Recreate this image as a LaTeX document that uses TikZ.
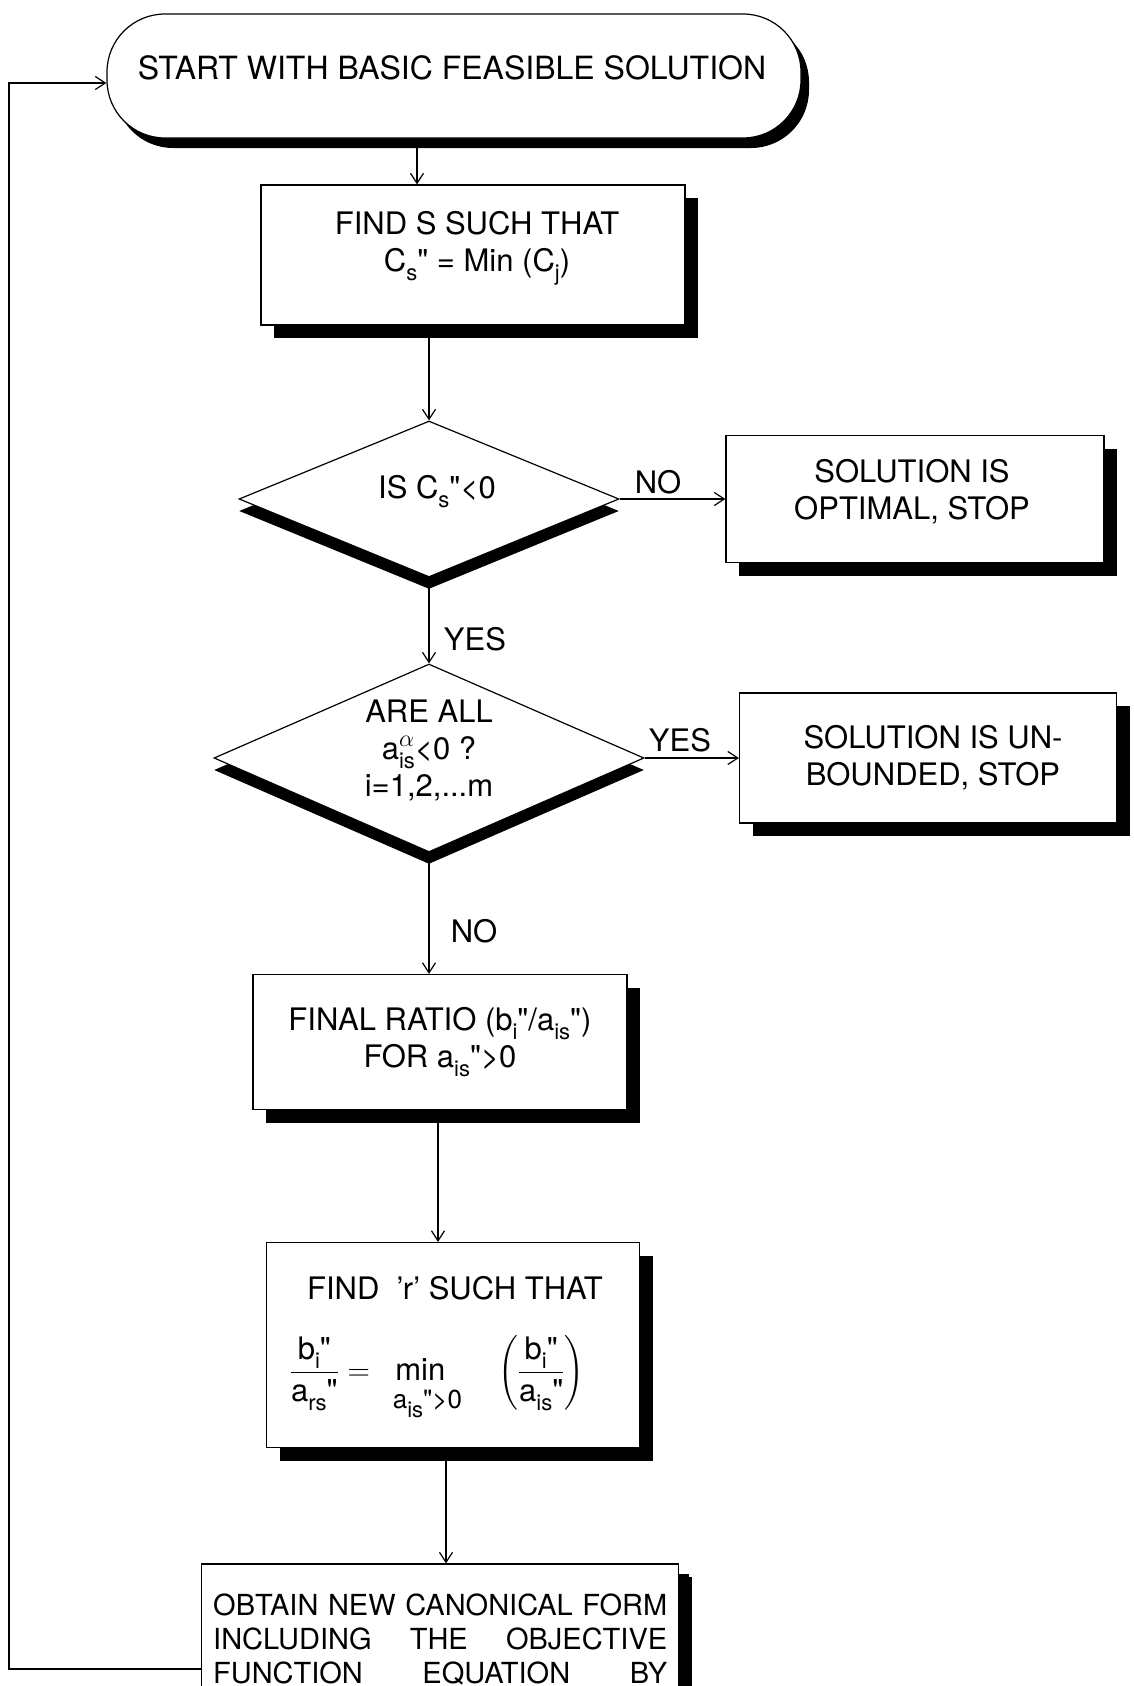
\documentclass[tikz,border=0pt]{standalone}
\usepackage{fix-cm}
\usepackage{amsmath}
\usepackage{fontspec}
\setmainfont{TeX Gyre Heros}[Ligatures=TeXOff]
\usetikzlibrary{shapes.geometric,shadows,arrows.meta}
\newcommand\sbs[1]{\raisebox{-9pt}{\fontsize{22}{22}\selectfont #1}}
\begin{document}
\begin{tikzpicture}[x=1pt,y=-1pt,
  every node/.style={inner sep=0pt},
  txt/.style={align=center,font={\fontsize{31}{37}\selectfont}},
  box/.style={draw,line width=1.2pt,fill=white,rectangle,
    general shadow={fill=black,shadow xshift=13pt,shadow yshift=-13pt}},
  term/.style={draw,line width=1.2pt,fill=white,rectangle,rounded corners=58pt,
    general shadow={fill=black,shadow xshift=8pt,shadow yshift=-10pt}},
  dia/.style={draw,diamond,line width=1.2pt,fill=white,
    general shadow={fill=black,shadow yshift=-12pt}},
  arr/.style={-{Straight Barb[length=10pt,width=13pt]},line width=1.2pt}]
\useasboundingbox (0,0) rectangle (1133,1686);
\clip (0,0) rectangle (1133,1686);

\node[term,minimum width=694pt,minimum height=124pt] (start) at (454,76) {};
\node[txt,font={\fontsize{32}{37}\selectfont}] (startt) at (452,68) {START WITH BASIC FEASIBLE SOLUTION};

\node[box,minimum width=424pt,minimum height=140pt] (b1) at (473,255) {};
\node[txt] (b1t) at (477,248) {FIND S SUCH THAT\\C\sbs{s}" = Min (C\sbs{j})};

\node[dia,minimum width=380pt,minimum height=156pt] (d1) at (429,499) {};
\node[txt] (d1t) at (437,492) {IS C\sbs{s}"<0};

\node[box,minimum width=378pt,minimum height=127pt] (b2) at (915,499) {};
\node[txt] (b2t) at (912,492) {SOLUTION IS\\OPTIMAL, STOP};

\node[dia,minimum width=430pt,minimum height=188pt] (d2) at (429,758) {};
\node[txt] (d2t) at (429,750) {ARE ALL\\a\rlap{\raisebox{13pt}{\fontsize{24}{24}\selectfont$\alpha$}}\sbs{is}<0 ?\\i=1,2,...m};

\node[box,minimum width=377pt,minimum height=130pt] (b3) at (928,758) {};
\node[txt] (b3t) at (933,758) {SOLUTION IS UN-\\BOUNDED, STOP};

\node[box,minimum width=374pt,minimum height=135pt] (b4) at (440,1042) {};
\node[txt] (b4t) at (440,1042) {FINAL RATIO (b\sbs{i}"/a\sbs{is}")\\FOR a\sbs{is}">0};

\node[box,minimum width=373pt,minimum height=205pt] (b5) at (453,1345) {};
\node[txt] (b5t) at (455,1288) {FIND\ \ ’r’ SUCH THAT};
\node[txt] (b5f) at (437,1378) {$\dfrac{\text{b\sbs{i}"}}{\text{a\sbs{rs}"}}\;{=}\;\underset{\text{\rule{0pt}{24pt}\fontsize{26}{26}\selectfont\ \ a\sbs{is}">0}}{\text{min}}\quad\left(\dfrac{\text{b\sbs{i}"}}{\text{a\sbs{is}"}}\right)$};

\node[box,general shadow={fill=black,shadow xshift=10pt,shadow yshift=-10pt},minimum width=477pt,minimum height=220pt] (b6) at (440,1674) {};
\node[anchor=north west,align=left,font={\fontsize{29}{34}\selectfont}] (b6t) at (213,1594)
  {\makebox[454pt][s]{OBTAIN NEW CANONICAL FORM}\\\makebox[454pt][s]{INCLUDING THE OBJECTIVE}\\\makebox[454pt][s]{FUNCTION EQUATION BY}};

\node[txt] (lno1) at (658,482) {NO};
\node[txt] (lyes1) at (475,639) {YES};
\node[txt] (lyes2) at (680,740) {YES};
\node[txt] (lno2) at (474,931) {NO};

\coordinate (xa) at (417,0);
\coordinate (xb) at (438,0);
\coordinate (xc) at (446,0);
\coordinate (fbB) at (9,1669);
\coordinate (fbT) at (9,83);

\draw[arr] (start.south -| xa) -- (b1.north -| xa);
\draw[arr] (b1.south -| d1.north) -- (d1.north);
\draw[arr] (d1.east) -- (b2.west);
\draw[arr] (d1.south) -- (d2.north);
\draw[arr] (d2.east) -- (b3.west);
\draw[arr] (d2.south) -- (b4.north -| d2.south);
\draw[arr] (b4.south -| xb) -- (b5.north -| xb);
\draw[arr] (b5.south -| xc) -- (b6.north -| xc);
\draw[arr] (b6.west |- fbB) -- (fbB) -- (fbT) -- (start.west |- fbT);
\end{tikzpicture}
\end{document}
